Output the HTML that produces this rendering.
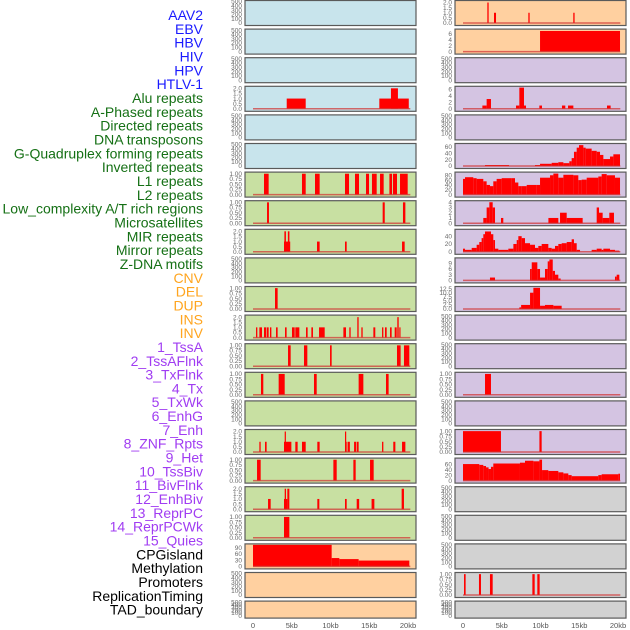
<!DOCTYPE html>
<html><head><meta charset="utf-8">
<style>
html,body{margin:0;padding:0;background:#fff;}
svg{display:block;font-family:"Liberation Sans",sans-serif;}
</style></head>
<body>
<svg id="chart" width="630" height="630" viewBox="0 0 630 630" xmlns="http://www.w3.org/2000/svg">
<g id="labels"></g>
<g id="panels"></g>
<g id="xaxes"></g>
</svg>
<script>
// ---- data ----
const trackLabels = ["AAV2","EBV","HBV","HIV","HPV","HTLV-1","Alu repeats","A-Phased repeats","Directed repeats","DNA transposons","G-Quadruplex forming repeats","Inverted repeats","L1 repeats","L2 repeats","Low_complexity A/T rich regions","Microsatellites","MIR repeats","Mirror repeats","Z-DNA motifs","CNV","DEL","DUP","INS","INV","1_TssA","2_TssAFlnk","3_TxFlnk","4_Tx","5_TxWk","6_EnhG","7_Enh","8_ZNF_Rpts","9_Het","10_TssBiv","11_BivFlnk","12_EnhBiv","13_ReprPC","14_ReprPCWk","15_Quies","CPGisland","Methylation","Promoters","ReplicationTiming","TAD_boundary"];
const labelGroups = [6,13,5,15,5];
const xTickValues = [0,5,10,15,20];
const xTickLabels = ["0","5kb","10kb","15kb","20kb"];
const ticksEmpty = [0,100,200,300,400,500];
const ticksUnit = [0,0.25,0.5,0.75,1];
const ticksTwo = [0,0.5,1,1.5,2];

// segments: [startKb, endKb, value]
const c1r3 = [[4.35,6.8,1],[16.3,20.1,1],[17.8,18.7,2]];
const c1r6 = [[1.42,2.02,1],[6.32,6.8,1],[8.0,8.6,1],[11.87,12.39,1],[13.16,13.68,1],[14.58,14.97,1],[15.35,15.96,1],[16.39,16.86,1],[17.6,17.94,1],[18.06,18.58,1],[18.97,19.96,1]];
const c1r7 = [[1.81,2.06,1],[16.73,17.0,1],[19.35,19.66,1]];
const c1r8 = [[4.0,4.8,1],[4.05,4.25,2],[4.5,4.7,2],[8.26,8.6,1],[11.87,12.09,1],[19.23,19.57,1]];
const c1r10 = [[2.84,3.18,1]];
const c1r11 = [[0.39,0.56,1],[0.82,1.16,1],[1.42,1.68,1],[1.76,2.02,1],[2.19,2.37,1],[2.97,3.18,1],[4.13,4.34,1],[5.03,5.38,1],[5.46,5.98,1],[6.84,7.05,1],[7.53,7.74,1],[8.52,9.25,1],[11.66,12.0,1],[12.43,12.6,1],[13.46,13.63,2],[13.98,14.15,1],[15.53,15.78,1],[16.65,16.82,1],[17.03,17.25,1],[17.68,17.89,1],[18.28,18.54,1],[18.62,18.8,2],[18.88,19.01,1]];
const c1r12 = [[4.52,4.86,1],[6.58,7.01,1],[9.94,10.15,1],[18.58,19.05,1],[19.48,20.17,1]];
const c1r13 = [[1.03,1.33,1],[3.31,4.09,1],[7.87,8.22,1],[13.63,14.24,1],[17.16,17.5,1]];
const c1r15 = [[0.82,0.99,1],[1.55,1.76,1],[4.0,4.95,1],[4.09,4.22,2],[5.46,5.76,1],[6.32,6.8,1],[8.3,8.6,1],[11.87,12.09,1],[11.87,12.0,2],[12.2,12.5,1],[13.04,13.3,1],[13.38,13.63,1],[16.65,16.82,1],[18.1,18.37,1],[19.23,19.66,1]];
const c1r16 = [[0.52,0.99,1],[10.37,10.8,1],[12.95,13.25,1],[15.1,15.57,1]];
const c1r17 = [[1.94,2.28,1],[4.0,4.43,1],[4.09,4.26,2],[4.43,4.69,2],[8.3,8.56,1],[11.87,12.09,1],[13.38,13.7,1],[15.3,15.66,1],[19.18,19.48,2]];
const c1r18 = [[4.0,4.69,1]];
const c1r19 = [[0,10.15,103],[10.15,11.14,40],[11.14,13.63,35],[13.63,20.17,28]];

const c2r0 = [[3.14,3.31,2],[4.0,4.26,1],[8.43,8.6,1],[14.23,14.4,1]];
const c2r1 = [[9.94,20.26,7]];
const c2r3 = [[2.5,3.05,1],[3.05,3.61,3],[6.84,7.27,1],[7.27,7.87,6.5],[7.87,8.13,1],[9.85,10.19,1],[12.77,13.2,1],[13.55,14.24,1],[18.58,19.05,1]];
const c2r5 = [[2.84,5.94,3],[9.29,9.94,3],[9.94,11.44,7],[11.44,12.3,10],[12.3,12.95,12],[12.95,13.72,9],[13.72,14.02,15],[14.02,14.32,25],[14.32,14.67,45],[14.67,14.97,58],[14.97,15.53,66],[15.53,15.83,58],[15.83,16.6,55],[16.6,17.25,48],[17.25,17.68,45],[17.68,18.11,35],[18.11,18.97,22],[18.97,19.4,30],[19.4,20.26,37]];
const c2r6 = [[0,0.26,65],[0.26,1.33,72],[1.33,1.76,68],[1.76,2.62,65],[2.62,3.05,55],[3.05,3.48,40],[3.48,3.91,35],[3.91,4.34,55],[4.34,4.99,65],[4.99,6.28,68],[6.28,6.71,68],[6.71,7.14,50],[7.14,7.57,35],[7.57,8.22,35],[8.22,9.51,40],[9.51,9.94,40],[9.94,11.23,70],[11.23,11.66,80],[11.66,12.3,87],[12.3,12.95,70],[12.95,14.24,82],[14.24,14.88,80],[14.88,15.31,60],[15.31,15.96,62],[15.96,17.46,70],[17.46,17.89,75],[17.89,18.54,85],[18.54,19.61,80],[19.61,20.26,70]];
const c2r7 = [[2.62,3.05,1],[3.05,3.4,3],[3.4,3.83,4],[3.83,4.13,3],[4.9,5.2,1],[11.02,12.3,1],[12.52,13.38,2],[13.38,15.44,1],[17.25,17.55,3],[17.55,18.02,2],[18.02,18.88,1],[18.88,19.48,2]];
const c2r8 = [[0,0.26,8],[0.26,1.12,5],[1.12,1.76,10],[1.76,2.1,18],[2.1,2.4,25],[2.4,2.62,35],[2.62,2.84,45],[2.84,3.61,52],[3.61,3.91,45],[3.91,4.13,30],[4.13,4.56,8],[4.56,5.85,5],[5.85,6.5,8],[6.5,6.93,20],[6.93,7.14,30],[7.14,7.57,40],[7.57,8.0,35],[8.0,8.65,22],[8.65,9.29,18],[9.29,9.72,10],[9.72,10.15,15],[10.15,11.01,20],[11.01,11.44,10],[11.44,11.87,8],[11.87,12.3,15],[12.3,12.73,20],[12.73,13.38,22],[13.38,14.02,25],[14.02,14.32,32],[14.32,14.67,22],[14.67,15.1,5],[16.6,17.25,5],[17.25,17.89,8],[17.89,18.11,5],[18.11,18.97,8],[18.97,19.61,5],[19.61,20.17,3]];
const c2r9 = [[3.48,4.13,1.5],[8.65,8.87,6],[8.87,9.59,9.5],[9.59,9.94,6],[9.94,10.58,1.5],[10.58,10.93,6],[10.93,11.15,10],[11.15,11.58,11],[11.58,11.87,5],[11.87,12.3,3],[12.3,12.6,1],[19.61,19.83,2],[19.83,20.17,3]];
const c2r10 = [[7.27,7.5,1],[7.5,8.65,2.5],[8.65,9.08,10],[9.08,9.94,13],[9.94,10.58,2],[10.58,11.66,2.5],[11.66,12.73,2]];
const c2r13 = [[2.84,3.61,1]];
const c2r15 = [[0,4.9,1],[9.86,10.15,1]];
const c2r16 = [[0,2.1,60],[2.1,2.62,57],[2.62,2.97,53],[2.97,3.3,48],[3.3,3.61,42],[3.61,3.91,50],[3.91,7.35,62],[7.35,8.0,65],[8.0,9.08,72],[9.08,9.86,70],[9.86,10.2,76],[10.2,11.01,38],[11.01,12.3,35],[12.3,12.95,30],[12.95,13.59,26],[13.59,14.02,20],[14.02,17.46,16],[17.46,17.89,20],[17.89,20.04,23],[20.04,20.26,25]];
const c2r20 = [[0.13,0.34,1],[2.06,2.32,1],[3.48,3.83,1],[8.95,9.25,1],[9.59,9.89,1]];

const BLUE="#c8e4ec", GREEN="#c8e0a2", ORANGE="#ffd0a0", PURPLE="#d4c4e2", GRAY="#d2d2d2";
// panel list: [col,row,bg,ymax,ticks,tickDecimals,segments,baselineEnd]
const panels = [
 [0,0,BLUE,null],[0,1,BLUE,null],[0,2,BLUE,null],
 [0,3,BLUE,2.1,ticksTwo,1,c1r3],
 [0,4,BLUE,null],[0,5,BLUE,null],
 [0,6,GREEN,1.03,ticksUnit,2,c1r6],
 [0,7,GREEN,1.03,ticksUnit,2,c1r7],
 [0,8,GREEN,2.1,ticksTwo,1,c1r8],
 [0,9,GREEN,null],
 [0,10,GREEN,1.03,ticksUnit,2,c1r10],
 [0,11,GREEN,2.1,ticksTwo,1,c1r11],
 [0,12,GREEN,1.03,ticksUnit,2,c1r12],
 [0,13,GREEN,1.03,ticksUnit,2,c1r13],
 [0,14,GREEN,null],
 [0,15,GREEN,2.1,ticksTwo,1,c1r15],
 [0,16,GREEN,1.03,ticksUnit,2,c1r16],
 [0,17,GREEN,2.1,ticksTwo,1,c1r17],
 [0,18,GREEN,1.03,ticksUnit,2,c1r18],
 [0,19,ORANGE,103,[0,30,60,90],0,c1r19],
 [0,20,ORANGE,null],[0,21,ORANGE,null],
 [1,0,ORANGE,2.1,ticksTwo,1,c2r0],
 [1,1,ORANGE,7.3,[0,2,4,6],0,c2r1],
 [1,2,PURPLE,null],
 [1,3,PURPLE,6.6,[0,2,4,6],0,c2r3],
 [1,4,PURPLE,null],
 [1,5,PURPLE,68,[0,20,40,60],0,c2r5],
 [1,6,PURPLE,89,[0,20,40,60,80],0,c2r6],
 [1,7,PURPLE,4.1,[0,1,2,3,4],0,c2r7],
 [1,8,PURPLE,55,[0,20,40],0,c2r8],
 [1,9,PURPLE,11.3,[0,3,6,9],0,c2r9],
 [1,10,PURPLE,13.2,[0,2.5,5,7.5,10,12.5],1,c2r10],
 [1,11,PURPLE,null],[1,12,PURPLE,null],
 [1,13,PURPLE,1.03,ticksUnit,2,c2r13],
 [1,14,PURPLE,null],
 [1,15,PURPLE,1.03,ticksUnit,2,c2r15],
 [1,16,PURPLE,78,[0,20,40,60],0,c2r16],
 [1,17,GRAY,null],[1,18,GRAY,null],[1,19,GRAY,null],
 [1,20,GRAY,1.03,ticksUnit,2,c2r20],
 [1,21,GRAY,null]
];

// ---- layout ----
const NS="http://www.w3.org/2000/svg";
const colLeft=[245,455], colW=171, colZero=[253,463], pxPerKb=7.75;
const rowPitch=28.6, panelH=25;
function xScale(col,kb){return colZero[col]+kb*pxPerKb;}
function rowTop(r){return r*rowPitch+0.5;}
function rowH(r){return r===21?17:panelH;}
function mk(tag,attrs,parent){const e=document.createElementNS(NS,tag);for(const k in attrs)e.setAttribute(k,attrs[k]);parent.appendChild(e);return e;}

// labels
const labelG=document.getElementById('labels');
const groupColors=["#1a1aff","#157015","#ffa51f","#a03cf2","#000000"];
let gi=0,gc=0;
trackLabels.forEach((t,i)=>{
  const el=mk('text',{x:203,y:20+i*13.83,'text-anchor':'end','font-size':'14',fill:groupColors[gi]},labelG);
  
  
  el.textContent=t;
  gc++; if(gc>=labelGroups[gi]){gi++;gc=0;}
});

const panelG=document.getElementById('panels');
panels.forEach(p=>{
  const [col,row,bg,ymax,ticks,dec,segs]=p;
  const T=rowTop(row), H=rowH(row), L=colLeft[col];
  const g=mk('g',{},panelG);
  
  
  const bgr=mk('rect',{x:L,y:T,width:colW,height:H,fill:bg,stroke:'#5a5a5a','stroke-width':1.2},g);
  
  
  const y0=T+H-2.5;
  const tv = ymax===null ? ticksEmpty : ticks;
  const tmax = ymax===null ? 500 : ymax;
  const yScale=v=>y0-(v/tmax)*(H-3.5);
  tv.forEach(v=>{
    const lab = ymax===null ? String(v) : v.toFixed(dec);
    const tk=mk('text',{x:L-3,y:yScale(v)+2.2,'text-anchor':'end','font-size':'6.5',fill:'#6a6a6a'},g);
    
    
    tk.textContent=lab;
  });
  if(ymax!==null){
    segs.forEach(s=>{
      const x1=xScale(col,s[0]), x2=xScale(col,s[1]);
      const b=mk('rect',{x:x1,y:yScale(s[2]),width:Math.max(1.2,x2-x1),height:y0-yScale(s[2]),fill:'#ff0000'},g);
      
      
    });
    const bl=mk('line',{x1:xScale(col,0),x2:xScale(col,20.3),y1:y0,y2:y0,stroke:'#d03030','stroke-opacity':0.7,'stroke-width':1.5},g);
    
    
  }
});

const xg=document.getElementById('xaxes');
[0,1].forEach(col=>{
  xTickValues.forEach((v,i)=>{
    const t=mk('text',{x:xScale(col,v),y:628,'text-anchor':'middle','font-size':'7.5',fill:'#555'},xg);
    
    
    t.textContent=xTickLabels[i];
  });
});
</script>
</body></html>
